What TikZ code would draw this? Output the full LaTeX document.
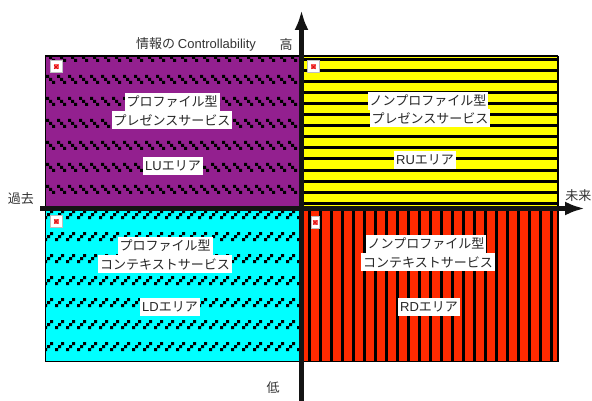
\documentclass[tikz,border=0pt]{standalone}
\usepackage{fontspec}
\setmainfont{Liberation Sans}
\newfontfamily\cjk{Noto Sans CJK JP}
\usetikzlibrary{arrows.meta}
\definecolor{qpurple}{HTML}{93208F}
\definecolor{qcyan}{HTML}{00FFFF}
\definecolor{qyellow}{HTML}{FFFF00}
\definecolor{qred}{HTML}{FF2A00}
\tikzset{
  quad/.style={draw=black,line width=1.6pt},
  tag/.style={fill=white,inner xsep=2pt,inner ysep=0pt,minimum height=18.5pt,font=\fontsize{13pt}{14pt}\selectfont\cjk,text=black!85},
  plain/.style={inner sep=0pt,font=\fontsize{13pt}{14pt}\selectfont\cjk,text=black!80},
  axis/.style={line width=4.6pt,black!92,-{Latex[length=20pt,width=14pt]}},
  icon/.style={draw=black!25,line width=1pt,fill=white,inner sep=0pt,minimum width=12pt,minimum height=12pt,
    path picture={\fill[red!65!white] ([xshift=-2.5pt,yshift=-2.5pt]path picture bounding box.center) rectangle ([xshift=2.5pt,yshift=2.5pt]path picture bounding box.center);
    \draw[red!80!black,line width=.5pt] ([xshift=-2pt,yshift=-2pt]path picture bounding box.center) -- ([xshift=2pt,yshift=2pt]path picture bounding box.center) ([xshift=-2pt,yshift=2pt]path picture bounding box.center) -- ([xshift=2pt,yshift=-2pt]path picture bounding box.center);}},
}
\begin{document}
\begin{tikzpicture}[x=1pt,y=-1pt]
\useasboundingbox (0,0) rectangle (592,401);
% quadrants
\fill[qpurple] (45,56) rectangle (299,208);
\fill[qcyan]   (45,208) rectangle (299,361);
\fill[qyellow] (303,56) rectangle (558,208);
\fill[qred]    (303,208) rectangle (558,361);
% purple pattern
\begin{scope}
\clip (45,56) rectangle (299,208);
\fill[black] \foreach \r in {-1,...,5} { \foreach \c in {0,...,23} {
  ({46+11*\c},{75+22*\r}) rectangle ++(3,3)
  ({49+11*\c},{78+22*\r}) rectangle ++(3,3)
  ({52+11*\c},{81+22*\r}) rectangle ++(3,3) } };
\end{scope}
% cyan pattern
\begin{scope}
\clip (45,208) rectangle (299,362);
\fill[black] \foreach \r in {-1,...,6} { \foreach \c in {0,...,23} {
  ({44+11*\c},{238+22*\r}) rectangle ++(3,3)
  ({47+11*\c},{235+22*\r}) rectangle ++(3,3)
  ({50+11*\c},{232+22*\r}) rectangle ++(3,3) } };
\end{scope}
% yellow lines
\begin{scope}
\clip (303,56) rectangle (558,208);
\foreach \k in {-2,...,11} \fill[black] (303,{round(80+11.07*\k)}) rectangle (558,{round(80+11.07*\k)+3});
\end{scope}
% red lines
\begin{scope}
\clip (303,208) rectangle (558,362);
\foreach \k in {0,...,22} \fill[black] ({308+11*\k},208) rectangle ({311+11*\k},362);
\end{scope}
% borders
\draw[quad] (45,56) -- (299,56);
\draw[quad] (303,56) -- (558,56);
\draw[line width=1pt] (45,56) -- (45,361) -- (299,361);
\draw[line width=1pt] (303,361.5) -- (558,361.5);
\draw[line width=1.4pt] (558,56) -- (558,362);
% axes
\coordinate (xs) at (40,208.5);
\coordinate (xe) at (585,208.5);
\coordinate (ys) at (301.5,401);
\coordinate (ye) at (301.5,10);
\draw[axis] (xs) -- (xe);
\draw[axis] (ys) -- (ye);
% icons
\node[icon] (iLU) at (56,67) {};
\node[icon] (iRU) at (313.5,67) {};
\node[icon] (iLD) at (56,221.5) {};
\node[icon,minimum width=8pt] (iRD) at (315,222.5) {};
% labels
\node[tag] (lu1) at (172,102) {プロファイル型};
\node[tag] (lu2) at (172,120) {プレゼンスサービス};
\node[tag] (lu3) at (173,166) {{\fontspec{Liberation Sans}LU}エリア};
\node[tag] (ru1) at (428,101) {ノンプロファイル型};
\node[tag] (ru2) at (430,118) {プレゼンスサービス};
\node[tag] (ru3) at (425,160) {{\fontspec{Liberation Sans}RU}エリア};
\node[tag] (ld1) at (165,246) {プロファイル型};
\node[tag] (ld2) at (165,264) {コンテキストサービス};
\node[tag] (ld3) at (170,307) {{\fontspec{Liberation Sans}LD}エリア};
\node[tag] (rd1) at (426,244) {ノンプロファイル型};
\node[tag] (rd2) at (428,262) {コンテキストサービス};
\node[tag] (rd3) at (429,307) {{\fontspec{Liberation Sans}RD}エリア};
\node[plain] (ctl) at (196,44.5) {情報の {\fontspec{Liberation Sans}Controllability}};
\node[plain] (hi) at (286,45) {高};
\node[plain] (lo) at (273,388) {低};
\node[plain] (past) at (21,199) {過去};
\node[plain,anchor=east] (fut) at (591.5,195.5) {未来};
\end{tikzpicture}
\end{document}
